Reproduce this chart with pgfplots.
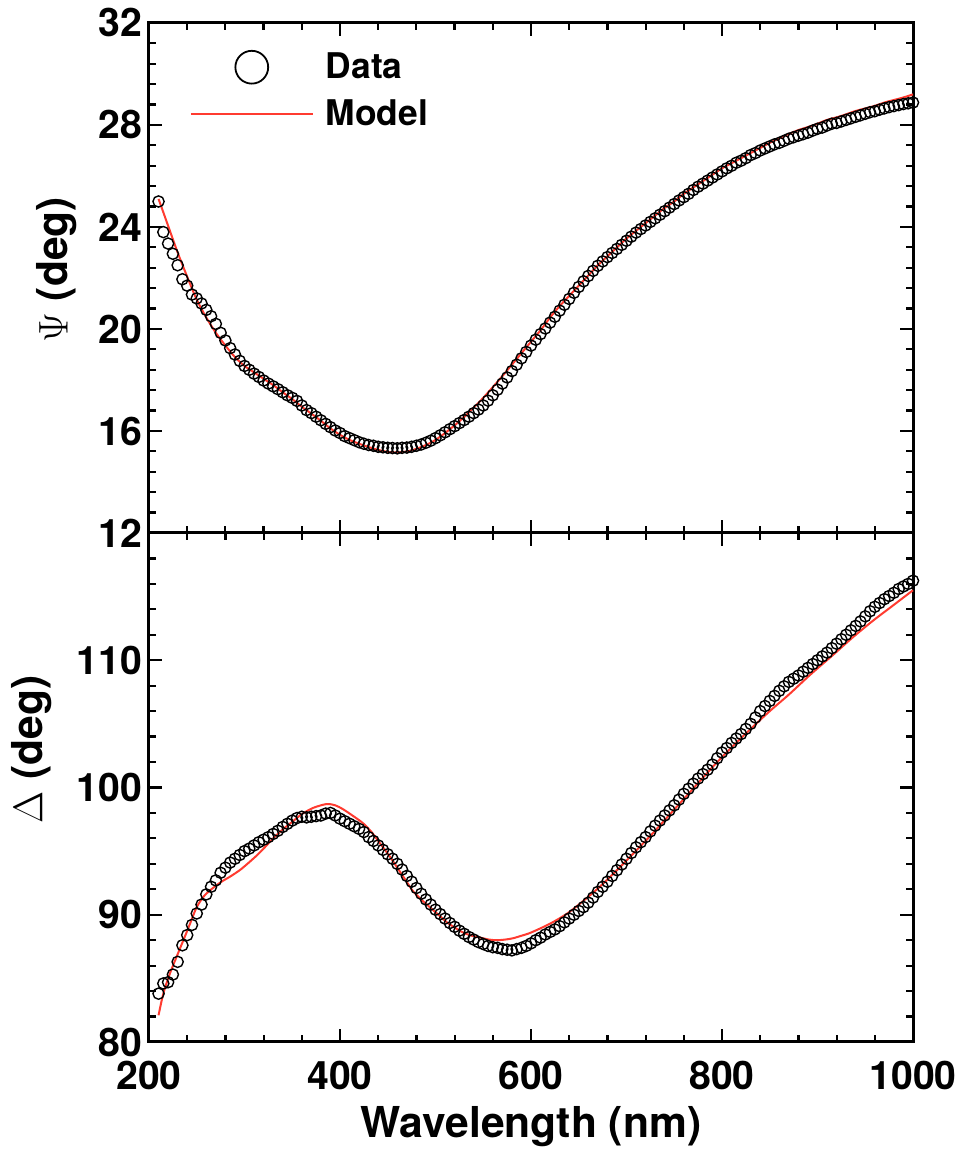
\documentclass[border=0pt]{standalone}
\usepackage{fontspec}
\setmainfont{TeX Gyre Heros}
\usepackage{pgfplots}
\pgfplotsset{compat=1.18}
\definecolor{modelred}{RGB}{255,59,48}
\pgfplotsset{
  ellips/.style={
    scale only axis, width=382pt, xmin=200, xmax=1000,
    xtick={200,400,...,1000}, minor x tick num=4,
    tick align=inside, major tick length=6.5pt, minor tick length=3.5pt,
    tick style={black, line width=1.1pt},
    axis line style={line width=1.5pt},
    tick label style={font=\fontsize{19.6}{23}\selectfont\bfseries},
    xticklabel style={yshift=-6pt},
    label style={font=\fontsize{21.3}{25}\selectfont\bfseries},
    xlabel style={yshift=-1.5pt},
    /pgf/number format/assume math mode=true,
    /pgf/number format/1000 sep={},
    clip=false,
  },
  datastyle/.style={only marks, mark=o, mark size=2.8pt, mark options={line width=0.7pt, black}},
  modelstyle/.style={modelred, line width=1pt, smooth, no marks},
}
\begin{document}
\begin{tikzpicture}
\useasboundingbox (-74.5pt,-53.5pt) rectangle (408.5pt,521pt);
% ---------------- top panel: Psi
\begin{axis}[ellips, at={(0pt,254.5pt)}, anchor=south west, height=255pt,
  ymin=12, ymax=32, ytick={12,16,...,32}, minor y tick num=4,
  xticklabels={},
  ylabel={$\Psi$ (deg)},
  ylabel style={at={(axis description cs:-0.085,0.516)}, anchor=south},
  legend style={draw=none, fill=none, at={(0.045,0.958)}, anchor=north west,
    font=\fontsize{17.7}{21}\selectfont\bfseries, row sep=5pt, column sep=4pt},
  legend cell align=left]
\addlegendimage{legend image code/.code={\path[draw=none] (0pt,0pt) -- (61pt,0pt); \draw[black, line width=0.9pt] (30.5pt,0pt) circle (8.2pt);}}
\addlegendentry{Data}
\addlegendimage{legend image code/.code={\draw[modelred, line width=1pt] (0pt,0pt) -- (61pt,0pt);}}
\addlegendentry{Model}
\addplot[datastyle, forget plot] table {
x y
210 25.00
215 23.80
220 23.35
225 22.95
230 22.50
235 21.95
240 21.70
245 21.35
250 21.20
255 21.00
260 20.75
265 20.50
270 20.20
275 19.85
280 19.55
285 19.25
290 19.00
295 18.75
300 18.55
305 18.40
310 18.25
315 18.12
320 17.98
325 17.86
330 17.75
335 17.64
340 17.52
345 17.40
350 17.30
355 17.18
360 17.00
365 16.82
370 16.70
375 16.56
380 16.42
385 16.28
390 16.15
395 16.02
400 15.92
405 15.80
410 15.72
415 15.64
420 15.56
425 15.50
430 15.45
435 15.42
440 15.38
445 15.36
450 15.34
455 15.33
460 15.32
465 15.34
470 15.35
475 15.38
480 15.42
485 15.47
490 15.54
495 15.62
500 15.72
505 15.83
510 15.95
515 16.07
520 16.19
525 16.31
530 16.43
535 16.56
540 16.70
545 16.84
550 17.00
555 17.19
560 17.40
565 17.62
570 17.86
575 18.10
580 18.35
585 18.60
590 18.85
595 19.10
600 19.35
605 19.58
610 19.80
615 20.02
620 20.25
625 20.48
630 20.72
635 20.95
640 21.18
645 21.42
650 21.65
655 21.87
660 22.08
665 22.28
670 22.48
675 22.65
680 22.82
685 22.98
690 23.14
695 23.30
700 23.46
705 23.62
710 23.78
715 23.92
720 24.06
725 24.20
730 24.34
735 24.48
740 24.62
745 24.76
750 24.90
755 25.04
760 25.17
765 25.30
770 25.45
775 25.58
780 25.70
785 25.82
790 25.94
795 26.06
800 26.18
805 26.30
810 26.40
815 26.52
820 26.60
825 26.70
830 26.82
835 26.90
840 27.00
845 27.08
850 27.16
855 27.24
860 27.30
865 27.38
870 27.46
875 27.52
880 27.58
885 27.64
890 27.70
895 27.78
900 27.85
905 27.90
910 27.98
915 28.05
920 28.08
925 28.14
930 28.20
935 28.26
940 28.32
945 28.38
950 28.44
955 28.50
960 28.54
965 28.60
970 28.65
975 28.70
980 28.74
985 28.78
990 28.82
995 28.85
1000 28.88
};
\addplot[modelstyle, forget plot] table {
x y
210 25.1
220 24.05
230 23.0
240 22.05
250 21.15
260 20.45
270 19.85
280 19.35
290 18.9
300 18.55
310 18.3
320 18.05
330 17.8
340 17.52
350 17.25
360 16.95
370 16.68
380 16.4
390 16.1
400 15.85
410 15.65
420 15.5
430 15.37
440 15.26
450 15.18
460 15.16
470 15.2
480 15.3
490 15.45
500 15.65
510 15.92
520 16.22
530 16.55
540 16.92
550 17.3
560 17.72
570 18.15
580 18.6
590 19.05
600 19.5
610 19.95
620 20.45
630 20.9
640 21.3
650 21.7
660 22.1
670 22.5
680 22.85
690 23.2
700 23.55
710 23.85
720 24.15
730 24.45
740 24.75
750 25.0
760 25.3
770 25.55
780 25.8
790 26.05
800 26.3
810 26.5
820 26.7
830 26.9
840 27.1
850 27.3
860 27.48
870 27.65
880 27.8
890 27.92
900 28.05
910 28.2
920 28.3
930 28.42
940 28.55
950 28.65
960 28.75
970 28.88
980 28.98
990 29.08
1000 29.2
};
\end{axis}
% ---------------- bottom panel: Delta
\begin{axis}[ellips, at={(0pt,0pt)}, anchor=south west, height=254.5pt,
  ymin=80, ymax=120, ytick={80,90,...,120}, yticklabels={80,90,100,110,{}},
  minor y tick num=4,
  xlabel={Wavelength (nm)},
  ylabel={$\Delta$ (deg)},
  ylabel style={at={(axis description cs:-0.118,0.575)}, anchor=south}]
\addplot[datastyle] table {
x y
210 83.8
215 84.6
220 84.7
225 85.3
230 86.3
235 87.6
240 88.4
245 89.2
250 90.1
255 90.8
260 91.6
265 92.2
270 92.7
275 93.3
280 93.7
285 94.1
290 94.4
295 94.7
300 95.0
305 95.2
310 95.45
315 95.7
320 95.9
325 96.1
330 96.35
335 96.6
340 96.9
345 97.15
350 97.4
355 97.6
360 97.7
365 97.65
370 97.7
375 97.75
380 97.8
385 97.95
390 98.0
395 97.8
400 97.55
405 97.35
410 97.15
415 96.95
420 96.75
425 96.5
430 96.1
435 95.8
440 95.45
445 95.1
450 94.75
455 94.4
460 94.0
465 93.55
470 93.05
475 92.6
480 92.1
485 91.65
490 91.2
495 90.8
500 90.4
505 90.05
510 89.7
515 89.35
520 89.05
525 88.75
530 88.5
535 88.25
540 88.05
545 87.85
550 87.7
555 87.55
560 87.45
565 87.4
570 87.3
575 87.25
580 87.2
585 87.3
590 87.4
595 87.55
600 87.75
605 88.0
610 88.2
615 88.45
620 88.65
625 88.85
630 89.1
635 89.4
640 89.7
645 90.0
650 90.3
655 90.6
660 90.95
665 91.35
670 91.8
675 92.2
680 92.6
685 93.05
690 93.5
695 93.95
700 94.4
705 94.85
710 95.3
715 95.7
720 96.1
725 96.55
730 97.0
735 97.4
740 97.8
745 98.2
750 98.6
755 99.05
760 99.5
765 99.9
770 100.3
775 100.7
780 101.05
785 101.4
790 101.8
795 102.3
800 102.75
805 103.1
810 103.5
815 103.85
820 104.2
825 104.6
830 105.0
835 105.5
840 106.0
845 106.4
850 106.8
855 107.2
860 107.6
865 107.95
870 108.3
875 108.55
880 108.8
885 109.1
890 109.4
895 109.7
900 110.0
905 110.3
910 110.6
915 110.95
920 111.3
925 111.65
930 112.0
935 112.35
940 112.7
945 113.05
950 113.45
955 113.85
960 114.2
965 114.5
970 114.8
975 115.05
980 115.3
985 115.6
990 115.8
995 116.0
1000 116.25
};
\addplot[modelstyle] table {
x y
210 82.1
215 83.8
222 85.4
230 86.9
236 88.0
243 89.3
250 90.6
258 91.5
267 92.1
276 92.6
285 93.0
295 93.5
303 94.0
312 94.6
320 95.2
330 96.0
340 96.7
350 97.3
360 97.9
372 98.4
386 98.7
395 98.6
403 98.3
413 97.8
424 97.2
433 96.5
442 95.6
451 94.7
460 93.7
468 92.8
476 91.9
485 91.2
494 90.6
503 90.0
512 89.4
520 89.0
529 88.6
538 88.35
547 88.2
556 88.05
564 88.0
573 88.05
581 88.15
590 88.35
600 88.6
620 89.3
638 90.1
655 91.1
672 92.2
690 93.5
707 94.8
725 96.2
742 97.6
760 99.1
778 100.6
795 102.0
812 103.3
830 104.6
850 106.0
870 107.3
893 108.9
916 110.4
937 111.8
958 113.1
979 114.3
1000 115.5
};
\end{axis}
\end{tikzpicture}
\end{document}
